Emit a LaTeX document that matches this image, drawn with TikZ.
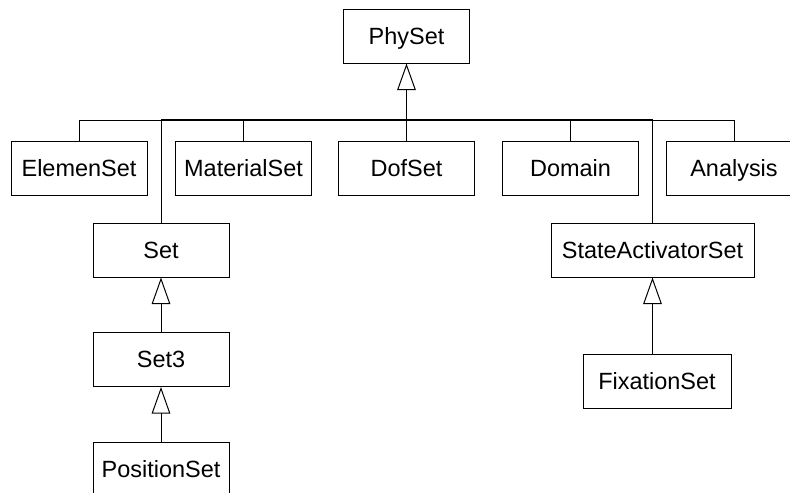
\documentclass[tikz,border=0pt]{standalone}
\usepackage{fontspec}
\setmainfont{Liberation Sans}
\usetikzlibrary{arrows.meta}

\tikzset{
  cls/.style={draw, line width=0.75pt, fill=white, minimum width=102pt,
    minimum height=40.5pt, inner sep=0pt, text height=12.6pt, text depth=0pt,
    font=\fontsize{17.6}{20}\selectfont},
  wire/.style={line width=0.75pt},
  isa/.style={line width=0.75pt,
    -{Triangle[open, length=20pt, width=14pt, line width=0.75pt]}},
}

\begin{document}
\begin{tikzpicture}[x=0.75pt, y=-0.75pt]
    \useasboundingbox (0,0) rectangle (790,493);
    \clip (0,0) rectangle (790,493);

    \node[cls, minimum width=94.5pt] (phy) at (406.5,36) {PhySet};

    \node[cls] (elem) at (79,168)    {ElemenSet};
    \node[cls] (mat)  at (243.5,168) {MaterialSet};
    \node[cls] (dof)  at (406.5,168) {DofSet};
    \node[cls] (dom)  at (570.5,168) {Domain};
    \node[cls] (ana)  at (734,168)   {Analysis};

    \node[cls] (set)  at (161,250)   {Set};
    \node[cls] (set3) at (161,359.5) {Set3};
    \node[cls] (pos)  at (161,469)   {PositionSet};

    \node[cls, minimum width=152.25pt] (sas) at (652.5,250) {StateActivatorSet};
    \node[cls, minimum width=111pt]    (fix) at (657,381.5) {FixationSet};

    \coordinate (bus) at (406.5,120);

    \foreach \n in {elem,mat,dof,dom,ana,set,sas} {
        \draw[wire] (\n.north) |- (bus);
    }
    \draw[line width=1.1pt] (set.north |- bus) -- (sas.north |- bus);
    \draw[isa, line width=1.1pt] (bus) -- (phy.south);

    \draw[isa] (set3.north) -- (set.south);
    \draw[isa] (pos.north) -- (set3.south);
    \draw[isa] (fix.north -| sas.south) -- (sas.south);
\end{tikzpicture}
\end{document}
